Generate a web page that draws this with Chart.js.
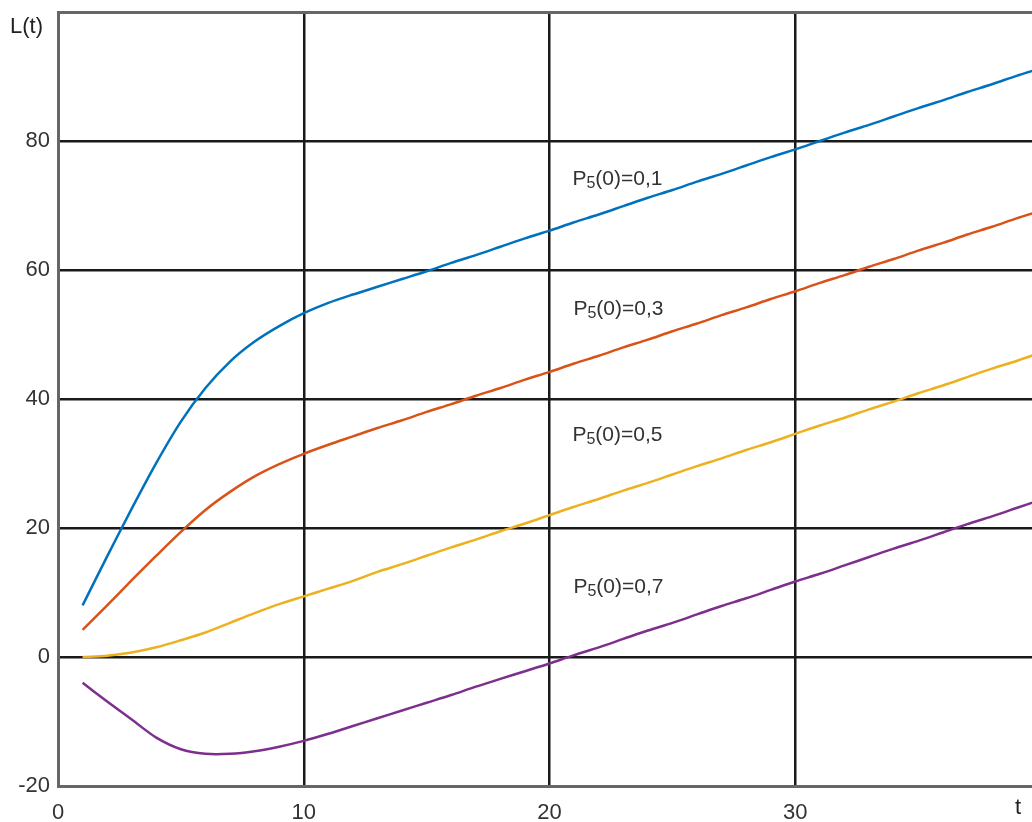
<!DOCTYPE html>
<html>
<head>
<meta charset="utf-8">
<title>L(t)</title>
<script src="https://cdn.jsdelivr.net/npm/chart.js@4.4.1/dist/chart.umd.min.js"></script>
<style>
  html, body { margin: 0; padding: 0; background: #ffffff; }
  #wrap { width: 1032px; height: 822px; }
</style>
</head>
<body>
<div id="wrap"><canvas id="chart" width="1032" height="822"></canvas></div>
<script>
// time axis samples
const tValues = [1, 2, 3, 4, 5, 6, 7, 8, 9, 10, 11, 12, 13, 14, 15, 16, 17, 18, 19, 20,
                 21, 22, 23, 24, 25, 26, 27, 28, 29, 30, 31, 32, 33, 34, 35, 36, 37, 38, 39, 40];

// L(t) for each initial probability P5(0)
const seriesP01 = [8.0, 15.6, 23.0, 30.1, 36.5, 41.7, 45.8, 48.9, 51.3, 53.3, 54.9, 56.2, 57.4, 58.6, 59.8, 61.1, 62.3, 63.6, 64.9, 66.1,
                   67.4, 68.6, 69.9, 71.2, 72.4, 73.7, 74.9, 76.2, 77.5, 78.7, 80.0, 81.3, 82.5, 83.8, 85.1, 86.3, 87.6, 88.8, 90.1, 91.3];
const seriesP03 = [4.2, 8.0, 11.9, 15.7, 19.4, 22.8, 25.6, 28.0, 29.9, 31.5, 32.9, 34.2, 35.5, 36.7, 38.0, 39.2, 40.5, 41.7, 43.0, 44.2,
                   45.5, 46.7, 48.0, 49.2, 50.5, 51.7, 53.0, 54.2, 55.5, 56.7, 58.0, 59.2, 60.5, 61.7, 63.0, 64.2, 65.5, 66.7, 68.0, 69.2];
const seriesP05 = [0.0, 0.2, 0.7, 1.5, 2.6, 3.8, 5.3, 6.8, 8.2, 9.4, 10.6, 11.8, 13.2, 14.4, 15.7, 17.0, 18.2, 19.5, 20.7, 22.0,
                   23.3, 24.5, 25.8, 27.0, 28.3, 29.6, 30.8, 32.1, 33.3, 34.6, 35.9, 37.1, 38.4, 39.6, 40.9, 42.1, 43.4, 44.7, 45.9, 47.2];
const seriesP07 = [-4.0, -6.9, -9.7, -12.5, -14.3, -15.0, -15.0, -14.6, -13.9, -13.0, -11.9, -10.7, -9.5, -8.3, -7.1, -5.9, -4.6, -3.4, -2.2, -1.0,
                   0.3, 1.5, 2.8, 4.1, 5.3, 6.6, 7.9, 9.1, 10.4, 11.7, 12.9, 14.2, 15.5, 16.8, 18.0, 19.3, 20.6, 21.8, 23.1, 24.4];

// series captions: prefix, subscript, rest
const captionTexts = [["P", "5", "(0)=0,1"], ["P", "5", "(0)=0,3"], ["P", "5", "(0)=0,5"], ["P", "5", "(0)=0,7"]];

// axis tick values
const xTicks = [0, 10, 20, 30];
const yTicks = [-20, 0, 20, 40, 60, 80, 100];

const xMin = 0, xMax = 39.63;
const yMin = -20, yMax = 100;

// caption anchors in data units (t, L) – left edge / baseline
const captionAnchors = [[20.93, 73.2], [20.97, 53.0], [20.93, 33.5], [20.97, 9.9]];

const lineColors = ["#0072BD", "#D95319", "#EDB120", "#7E2F8E"];

const FONT = "'Liberation Sans', Arial, sans-serif";
Chart.defaults.font.family = FONT;

function pairs(ys) {
  return tValues.map((t, i) => ({ x: t, y: ys[i] }));
}

const annotationPlugin = {
  id: "captions",
  afterDraw(chart) {
    const ctx = chart.ctx;
    const xs = chart.scales.x, ys = chart.scales.y;
    ctx.save();
    ctx.fillStyle = "#333333";
    ctx.textBaseline = "alphabetic";
    ctx.textAlign = "left";
    captionTexts.forEach((parts, i) => {
      let px = xs.getPixelForValue(captionAnchors[i][0]);
      const py = ys.getPixelForValue(captionAnchors[i][1]);
      ctx.font = "21px " + FONT;
      ctx.fillText(parts[0], px, py);
      px += ctx.measureText(parts[0]).width;
      ctx.font = "16px " + FONT;
      ctx.fillText(parts[1], px, py + 3);
      px += ctx.measureText(parts[1]).width;
      ctx.font = "21px " + FONT;
      ctx.fillText(parts[2], px, py);
    });
    // axis names
    ctx.fillStyle = "#222222";
    ctx.font = "22px " + FONT;
    ctx.textBaseline = "middle";
    ctx.fillText("L(t)", 10, 27);
    ctx.fillText("t", 1015, 808);
    ctx.restore();
  }
};

new Chart(document.getElementById("chart"), {
  type: "line",
  data: {
    datasets: [seriesP01, seriesP03, seriesP05, seriesP07].map((s, i) => ({
      label: captionTexts[i].join(""),
      data: pairs(s),
      borderColor: lineColors[i],
      backgroundColor: lineColors[i],
      borderWidth: 2.5,
      pointRadius: 0,
      tension: 0.3,
      fill: false
    }))
  },
  options: {
    responsive: false,
    maintainAspectRatio: false,
    animation: false,
    layout: { padding: { top: 12, right: 0, bottom: 0, left: 0 } },
    plugins: { legend: { display: false }, tooltip: { enabled: false } },
    scales: {
      x: {
        type: "linear",
        min: xMin,
        max: xMax,
        afterBuildTicks(scale) { scale.ticks = xTicks.map(v => ({ value: v })); },
        afterFit(scale) { scale.height = 36; scale.paddingLeft = 0; scale.paddingRight = 0; },
        ticks: {
          color: "#333333",
          font: { size: 22 },
          padding: 14,
          maxRotation: 0,
          autoSkip: false
        },
        grid: {
          drawTicks: false,
          lineWidth: 2.5,
          color: (c) => (c.tick && c.tick.value === 0 ? "rgba(0,0,0,0)" : "#1a1a1a")
        },
        border: { display: true, color: "#666666", width: 3 }
      },
      y: {
        type: "linear",
        min: yMin,
        max: yMax,
        afterBuildTicks(scale) { scale.ticks = yTicks.map(v => ({ value: v })); },
        afterFit(scale) { scale.width = 58; scale.paddingTop = 0; scale.paddingBottom = 0; },
        ticks: {
          color: "#333333",
          font: { size: 22 },
          padding: 8,
          autoSkip: false,
          callback: (v) => (v === 100 ? "" : String(v))
        },
        grid: {
          drawTicks: false,
          lineWidth: (c) => (c.tick && c.tick.value === 100 ? 3 : 2.5),
          color: (c) => {
            if (!c.tick) return "#1a1a1a";
            if (c.tick.value === -20) return "rgba(0,0,0,0)";
            if (c.tick.value === 100) return "#666666";
            return "#1a1a1a";
          }
        },
        border: { display: true, color: "#666666", width: 3 }
      }
    }
  },
  plugins: [annotationPlugin]
});
</script>
</body>
</html>
